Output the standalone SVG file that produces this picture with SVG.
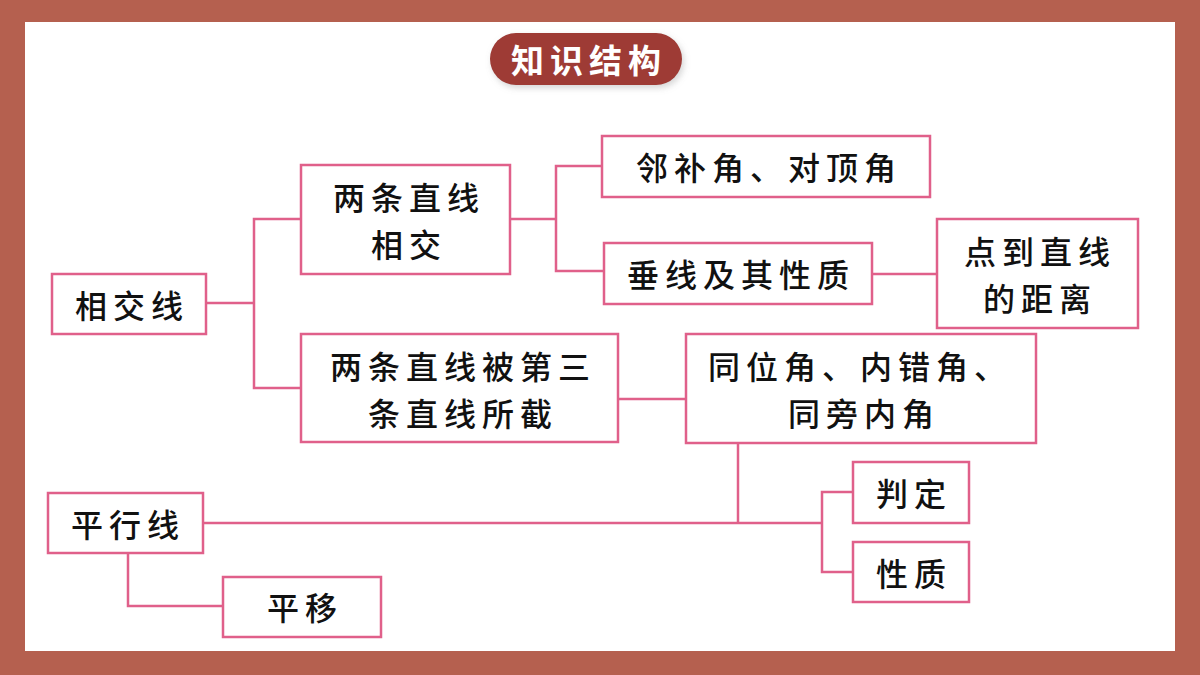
<svg xmlns="http://www.w3.org/2000/svg" width="1200" height="675" viewBox="0 0 1200 675">
<style>
.box{fill:#fff;stroke:#E0608A;stroke-width:2.5}
.t{font-family:"Noto Sans CJK SC","Noto Sans",sans-serif;font-size:32px;font-weight:500;fill:#111;text-anchor:middle;dominant-baseline:central;letter-spacing:6px}
.ln{fill:none;stroke:#E0608A;stroke-width:2.5}
.title{font-family:"Noto Sans CJK SC","Noto Sans",sans-serif;font-size:33px;fill:#fff;text-anchor:middle;dominant-baseline:central;letter-spacing:6px;font-weight:bold}
</style>
<defs>
<filter id="sh" x="-10%" y="-20%" width="120%" height="150%">
<feDropShadow dx="2" dy="3" stdDeviation="3" flood-color="#888" flood-opacity="0.35"/>
</filter>
</defs>
<rect x="0" y="0" width="1200" height="675" fill="#B5604F"/>
<rect x="25" y="22" width="1150" height="629" fill="#fff"/>
<g id="title">
<rect x="490" y="33" width="192" height="52" rx="26" fill="#9E3A34" filter="url(#sh)"/>
<text class="title" x="589" y="59">知识结构</text>
</g>
<g id="connectors">
<polyline class="ln" points="206,303 254,303"/>
<polyline class="ln" points="301,219 254,219 254,388 301,388"/>
<polyline class="ln" points="510,219 556,219"/>
<polyline class="ln" points="602,166 556,166 556,271 604,271"/>
<polyline class="ln" points="872,274 937,274"/>
<polyline class="ln" points="618,399 686,399"/>
<polyline class="ln" points="738,443 738,524"/>
<polyline class="ln" points="203,523 822,523"/>
<polyline class="ln" points="853,492 822,492 822,572 853,572"/>
<polyline class="ln" points="128,553 128,606 223,606"/>
</g>
<g id="n1"><rect class="box" x="52" y="274" width="154" height="60"/><text class="t" x="132" y="304">相交线</text></g>
<g id="n2"><rect class="box" x="301" y="165" width="209" height="109"/><text class="t" x="409" y="196">两条直线</text><text class="t" x="409" y="243">相交</text></g>
<g id="n3"><rect class="box" x="301" y="334" width="317" height="108"/><text class="t" x="463" y="365">两条直线被第三</text><text class="t" x="463" y="412">条直线所截</text></g>
<g id="n4"><rect class="box" x="602" y="136" width="328" height="61"/><text class="t" x="769" y="166">邻补角、对顶角</text></g>
<g id="n5"><rect class="box" x="604" y="243" width="268" height="61"/><text class="t" x="741" y="273">垂线及其性质</text></g>
<g id="n6"><rect class="box" x="937" y="219" width="201" height="109"/><text class="t" x="1040" y="250">点到直线</text><text class="t" x="1040" y="297">的距离</text></g>
<g id="n7"><rect class="box" x="686" y="334" width="350" height="109"/><text class="t" x="860" y="365">同位角、内错角、</text><text class="t" x="864" y="412">同旁内角</text></g>
<g id="n8"><rect class="box" x="48" y="493" width="155" height="60"/><text class="t" x="128" y="523">平行线</text></g>
<g id="n9"><rect class="box" x="853" y="462" width="116" height="61"/><text class="t" x="914" y="492">判定</text></g>
<g id="n10"><rect class="box" x="853" y="542" width="116" height="60"/><text class="t" x="914" y="572">性质</text></g>
<g id="n11"><rect class="box" x="223" y="577" width="158" height="60"/><text class="t" x="305" y="606">平移</text></g>
</svg>
